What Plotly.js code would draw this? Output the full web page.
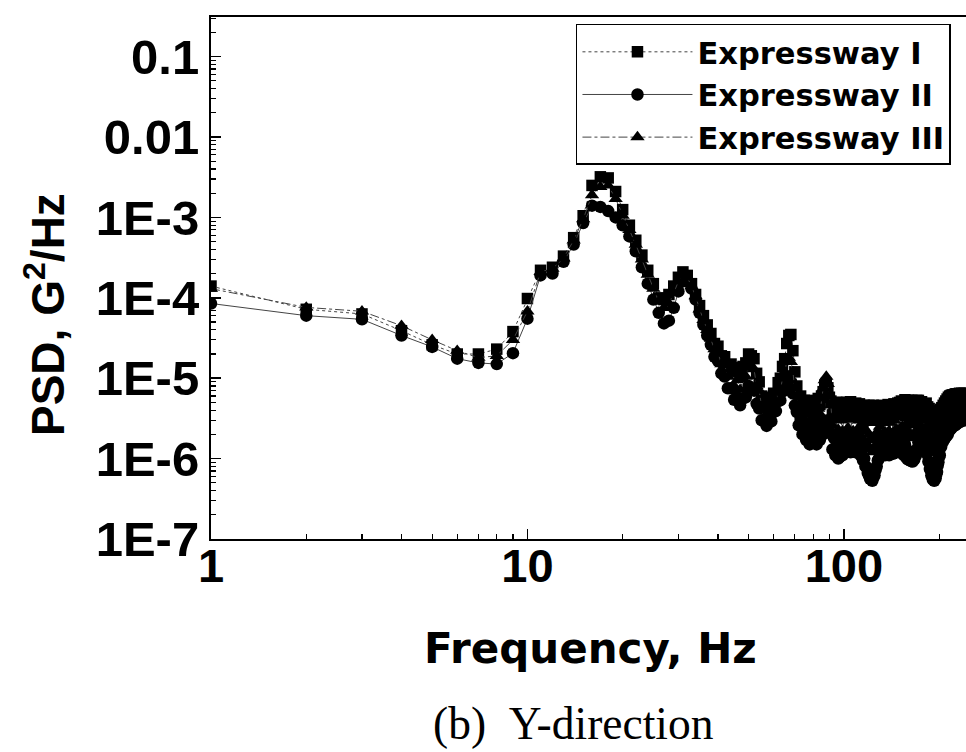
<!DOCTYPE html>
<html>
<head>
<meta charset="utf-8">
<script src="https://cdn.plot.ly/plotly-3.0.1.min.js"></script>
<style>html,body{margin:0;padding:0;background:#fff;}#chart{width:966px;height:752px;}</style>
</head>
<body>
<div id="chart"></div>
<script>
// Frequency (Hz), 1 Hz resolution
var freq = [1,2,3,4,5,6,7,8,9,10,11,12,13,14,15,16,17,18,19,20,21,22,23,24,25,26,27,28,29,30,
31,32,33,34,35,36,37,38,39,40,41,42,43,44,45,46,47,48,49,50,51,52,53,54,55,56,57,58,59,60,
61,62,63,64,65,66,67,68,69,70,71,72,73,74,75,76,77,78,79,80,81,82,83,84,85,86,87,88,89,90,
91,92,93,94,95,96,97,98,99,100,101,102,103,104,105,106,107,108,109,110,111,112,113,114,115,116,117,118,119,120,
121,122,123,124,125,126,127,128,129,130,131,132,133,134,135,136,137,138,139,140,141,142,143,144,145,146,147,148,149,150,
151,152,153,154,155,156,157,158,159,160,161,162,163,164,165,166,167,168,169,170,171,172,173,174,175,176,177,178,179,180,
181,182,183,184,185,186,187,188,189,190,191,192,193,194,195,196,197,198,199,200,201,202,203,204,205,206,207,208,209,210,
211,212,213,214,215,216,217,218,219,220,221,222,223,224,225,226,227,228,229,230,231,232,233,234,235,236,237,238,239,240,
241,242,243];

// Expressway I (squares)
var psdI = [1.4e-4,7.2e-5,6.3e-5,3.9e-5,2.6e-5,2.0e-5,2.0e-5,2.3e-5,3.8e-5,9.8e-5,
2.2e-4,2.4e-4,3.3e-4,5.6e-4,1.05e-3,2.5e-3,3.2e-3,3.1e-3,2.1e-3,1.25e-3,
8.0e-4,5.2e-4,3.4e-4,2.2e-4,1.5e-4,1.0e-4,9.5e-5,1.1e-4,1.4e-4,1.8e-4,
2.1e-4,1.9e-4,1.5e-4,1.1e-4,8.0e-5,6.0e-5,4.6e-5,3.6e-5,2.7e-5,2.5e-5,
1.9e-5,1.85e-5,1.45e-5,1.5e-5,1.2e-5,1.35e-5,1.1e-5,1.4e-5,1.55e-5,2.0e-5,
1.9e-5,1.75e-5,1.15e-5,9.0e-6,6.0e-6,5.8e-6,4.8e-6,5.6e-6,5.0e-6,6.5e-6,
6.4e-6,8.8e-6,1.0e-5,1.4e-5,1.75e-5,2.7e-5,3.4e-5,3.5e-5,2.2e-5,1.2e-5,
8.0e-6,5.8e-6,6.0e-6,4.5e-6,5.3e-6,4.1e-6,5.3e-6,4.4e-6,5.1e-6,3.9e-6,
4.9e-6,4.3e-6,5.6e-6,4.7e-6,6.0e-6,6.8e-6,8.2e-6,8.6e-6,7.6e-6,5.8e-6,
5.2e-6,3.5e-6,4.7e-6,3.3e-6,5.0e-6,4.0e-6,3.4e-6,5.0e-6,3.7e-6,4.8e-6,
3.4e-6,5.0e-6,4.1e-6,3.3e-6,5.1e-6,3.6e-6,4.7e-6,3.4e-6,4.9e-6,3.9e-6,
3.3e-6,4.8e-6,3.5e-6,4.5e-6,3.2e-6,4.6e-6,3.3e-6,4.4e-6,3.0e-6,4.6e-6,
3.4e-6,4.3e-6,3.0e-6,4.6e-6,3.3e-6,4.2e-6,3.0e-6,4.5e-6,3.3e-6,4.3e-6,
3.1e-6,4.6e-6,3.5e-6,4.2e-6,3.0e-6,4.5e-6,3.3e-6,4.7e-6,3.5e-6,4.2e-6,
3.2e-6,4.6e-6,3.5e-6,4.8e-6,3.3e-6,4.5e-6,3.6e-6,4.9e-6,3.7e-6,5.0e-6,
3.9e-6,5.2e-6,4.1e-6,5.0e-6,3.8e-6,5.4e-6,4.2e-6,4.9e-6,3.7e-6,5.3e-6,
4.2e-6,5.1e-6,3.8e-6,5.3e-6,4.0e-6,5.2e-6,3.7e-6,5.0e-6,4.1e-6,5.3e-6,
3.9e-6,5.3e-6,4.1e-6,4.9e-6,3.7e-6,5.1e-6,4.0e-6,4.8e-6,3.6e-6,4.7e-6,
3.6e-6,4.9e-6,3.4e-6,4.4e-6,3.1e-6,4.2e-6,2.9e-6,3.9e-6,2.7e-6,3.8e-6,
2.6e-6,3.7e-6,2.5e-6,3.6e-6,2.7e-6,3.8e-6,2.6e-6,3.7e-6,2.8e-6,3.9e-6,
2.9e-6,4.1e-6,3.1e-6,4.3e-6,3.3e-6,4.6e-6,3.5e-6,4.9e-6,3.8e-6,5.2e-6,
4.0e-6,5.5e-6,4.3e-6,5.8e-6,4.5e-6,6.0e-6,4.7e-6,6.1e-6,4.9e-6,6.2e-6,
5.0e-6,6.2e-6,5.1e-6,6.3e-6,5.0e-6,6.4e-6,5.2e-6,6.3e-6,5.1e-6,6.4e-6,
5.2e-6,6.5e-6,5.1e-6,6.3e-6,5.2e-6,6.5e-6,5.3e-6,6.4e-6,5.2e-6,6.5e-6,
5.3e-6,6.4e-6,5.2e-6];

// Expressway II (circles)
var psdII = [8.5e-5,6.0e-5,5.4e-5,3.4e-5,2.45e-5,1.75e-5,1.55e-5,1.5e-5,2.05e-5,5.5e-5,
1.9e-4,2.0e-4,2.8e-4,4.6e-4,8.5e-4,1.4e-3,1.35e-3,1.2e-3,1.0e-3,8.0e-4,
5.8e-4,3.8e-4,2.4e-4,1.5e-4,9.5e-5,6.5e-5,4.8e-5,5.2e-5,7.5e-5,1.2e-4,
1.6e-4,1.6e-4,1.3e-4,9.5e-5,6.5e-5,4.6e-5,3.4e-5,2.6e-5,1.85e-5,1.65e-5,
1.15e-5,1.05e-5,7.5e-6,7.5e-6,5.4e-6,5.8e-6,4.6e-6,5.6e-6,5.8e-6,8.0e-6,
7.5e-6,7.0e-6,4.8e-6,4.2e-6,3.0e-6,2.9e-6,2.55e-6,3.0e-6,2.9e-6,3.8e-6,
3.9e-6,5.2e-6,5.3e-6,6.8e-6,7.5e-6,9.5e-6,1.05e-5,9.0e-6,6.5e-6,4.6e-6,
3.8e-6,2.6e-6,3.1e-6,2.0e-6,2.5e-6,1.7e-6,2.2e-6,1.5e-6,1.9e-6,1.6e-6,
2.3e-6,1.5e-6,2.0e-6,1.7e-6,2.4e-6,2.0e-6,2.9e-6,2.4e-6,3.0e-6,2.1e-6,
2.2e-6,1.3e-6,1.8e-6,1.1e-6,1.5e-6,1.0e-6,1.05e-6,1.4e-6,1.1e-6,1.6e-6,
1.2e-6,1.9e-6,1.3e-6,1.8e-6,1.2e-6,1.7e-6,1.3e-6,1.9e-6,1.2e-6,1.7e-6,
1.3e-6,1.6e-6,1.1e-6,1.3e-6,9.5e-7,1.0e-6,8.0e-7,7.8e-7,6.6e-7,6.2e-7,
5.6e-7,6.0e-7,5.3e-7,5.8e-7,6.2e-7,7.2e-7,8.0e-7,9.5e-7,1.0e-6,1.2e-6,
1.1e-6,1.5e-6,1.15e-6,1.6e-6,1.1e-6,1.5e-6,1.2e-6,1.7e-6,1.1e-6,1.6e-6,
1.2e-6,1.7e-6,1.15e-6,1.6e-6,1.2e-6,1.8e-6,1.3e-6,1.7e-6,1.2e-6,1.6e-6,
1.3e-6,1.8e-6,1.2e-6,1.6e-6,1.1e-6,1.5e-6,1.05e-6,1.3e-6,9.8e-7,1.15e-6,
9.6e-7,1.0e-6,9.3e-7,9.5e-7,9.2e-7,9.7e-7,9.8e-7,1.1e-6,1.1e-6,1.3e-6,
1.3e-6,1.6e-6,1.5e-6,1.9e-6,1.6e-6,2.0e-6,1.7e-6,2.1e-6,1.6e-6,1.9e-6,
1.4e-6,1.6e-6,1.15e-6,1.2e-6,9.2e-7,9.0e-7,7.4e-7,7.2e-7,6.2e-7,6.0e-7,
5.5e-7,5.7e-7,5.3e-7,5.6e-7,5.7e-7,6.4e-7,6.8e-7,8.2e-7,9.0e-7,1.05e-6,
1.1e-6,1.4e-6,1.4e-6,1.7e-6,1.6e-6,1.9e-6,1.7e-6,2.1e-6,1.8e-6,2.2e-6,
1.9e-6,2.4e-6,2.0e-6,2.5e-6,2.2e-6,2.7e-6,2.3e-6,2.8e-6,2.4e-6,2.9e-6,
2.5e-6,3.0e-6,2.6e-6,3.1e-6,2.6e-6,3.2e-6,2.7e-6,3.2e-6,2.8e-6,3.3e-6,
2.8e-6,3.4e-6,2.9e-6,3.3e-6,2.9e-6,3.5e-6,3.0e-6,3.4e-6,3.0e-6,3.5e-6,
3.1e-6,3.6e-6,3.0e-6];

// Expressway III (triangles)
var psdIII = [1.3e-4,7.6e-5,6.8e-5,4.5e-5,3.0e-5,2.2e-5,1.8e-5,1.9e-5,3.0e-5,6.8e-5,
2.1e-4,2.3e-4,3.1e-4,5.2e-4,9.5e-4,1.9e-3,2.4e-3,2.5e-3,1.7e-3,1.05e-3,
7.0e-4,4.6e-4,3.0e-4,1.95e-4,1.3e-4,9.0e-5,7.5e-5,8.5e-5,1.15e-4,1.6e-4,
1.9e-4,1.8e-4,1.4e-4,1.05e-4,7.2e-5,5.3e-5,4.0e-5,3.1e-5,2.3e-5,2.1e-5,
1.5e-5,1.45e-5,1.05e-5,1.15e-5,8.0e-6,9.5e-6,7.2e-6,9.8e-6,1.05e-5,1.45e-5,
1.35e-5,1.3e-5,8.0e-6,7.0e-6,4.4e-6,4.6e-6,3.6e-6,4.5e-6,4.0e-6,5.6e-6,
5.0e-6,7.2e-6,7.0e-6,1.0e-5,1.2e-5,1.6e-5,1.8e-5,1.6e-5,1.2e-5,7.5e-6,
6.0e-6,4.4e-6,5.0e-6,3.3e-6,4.0e-6,2.8e-6,3.6e-6,3.0e-6,3.9e-6,2.7e-6,
3.4e-6,2.9e-6,4.2e-6,3.6e-6,5.6e-6,7.5e-6,9.5e-6,1.05e-5,8.5e-6,6.0e-6,
4.6e-6,2.6e-6,3.4e-6,2.0e-6,3.1e-6,2.3e-6,1.9e-6,3.0e-6,2.2e-6,3.2e-6,
2.1e-6,3.3e-6,2.4e-6,3.5e-6,2.0e-6,3.1e-6,2.2e-6,3.4e-6,2.1e-6,3.2e-6,
2.3e-6,3.0e-6,1.9e-6,2.7e-6,1.7e-6,2.4e-6,1.6e-6,2.2e-6,1.4e-6,2.0e-6,
1.3e-6,1.8e-6,1.2e-6,1.7e-6,1.4e-6,1.9e-6,1.5e-6,2.2e-6,1.7e-6,2.5e-6,
1.9e-6,2.8e-6,2.0e-6,3.1e-6,2.1e-6,2.9e-6,2.0e-6,3.2e-6,2.2e-6,2.8e-6,
2.0e-6,3.1e-6,2.1e-6,3.0e-6,2.2e-6,3.3e-6,2.3e-6,3.4e-6,2.2e-6,3.5e-6,
2.4e-6,3.6e-6,2.5e-6,3.4e-6,2.3e-6,3.7e-6,2.4e-6,3.2e-6,2.1e-6,2.9e-6,
1.9e-6,2.7e-6,1.8e-6,2.6e-6,1.9e-6,2.8e-6,2.0e-6,3.0e-6,2.2e-6,3.1e-6,
2.3e-6,3.4e-6,2.4e-6,3.5e-6,2.5e-6,3.6e-6,2.4e-6,3.3e-6,2.2e-6,3.2e-6,
2.1e-6,3.0e-6,1.9e-6,2.6e-6,1.7e-6,2.3e-6,1.5e-6,2.0e-6,1.4e-6,1.8e-6,
1.3e-6,1.7e-6,1.2e-6,1.6e-6,1.3e-6,1.8e-6,1.4e-6,2.0e-6,1.6e-6,2.2e-6,
1.8e-6,2.5e-6,2.0e-6,2.8e-6,2.2e-6,3.1e-6,2.4e-6,3.4e-6,2.6e-6,3.7e-6,
2.8e-6,3.9e-6,3.0e-6,4.2e-6,3.2e-6,4.4e-6,3.4e-6,4.6e-6,3.5e-6,4.7e-6,
3.6e-6,4.8e-6,3.7e-6,4.9e-6,3.8e-6,5.0e-6,3.8e-6,4.9e-6,3.9e-6,5.0e-6,
3.9e-6,5.1e-6,4.0e-6,5.0e-6,3.9e-6,5.1e-6,4.0e-6,5.2e-6,4.1e-6,5.1e-6,
4.0e-6,5.2e-6,4.1e-6];

var seriesNames = ["Expressway I", "Expressway II", "Expressway III"];

var yTickVals = [1e-7, 1e-6, 1e-5, 1e-4, 1e-3, 0.01, 0.1];
var yTickText = ["1E-7", "1E-6", "1E-5", "1E-4", "1E-3", "0.01", "0.1"];
var xTickVals = [1, 10, 100];
var xTickText = ["1", "10", "100"];

// minor tick positions (axis decoration)
var yMinor = [];
for (var e = -7; e <= -1; e++) { for (var m = 2; m <= 9; m++) { yMinor.push(m * Math.pow(10, e)); } }
var xMinor = [];
for (var e2 = 0; e2 <= 2; e2++) { for (var m2 = 2; m2 <= 9; m2++) { xMinor.push(m2 * Math.pow(10, e2)); } }

var sans = "Liberation Sans, Arial, sans-serif";
var wide = "DejaVu Sans, Verdana, sans-serif";

var traces = [
  {x: freq, y: psdI, name: seriesNames[0], type: "scatter", mode: "lines+markers",
   line: {color: "#444", width: 1, dash: "dot"},
   marker: {symbol: "square", size: 11.5, color: "#000"}},
  {x: freq, y: psdII, name: seriesNames[1], type: "scatter", mode: "lines+markers",
   line: {color: "#444", width: 1, dash: "solid"},
   marker: {symbol: "circle", size: 12.5, color: "#000"}},
  {x: freq, y: psdIII, name: seriesNames[2], type: "scatter", mode: "lines+markers",
   line: {color: "#444", width: 1, dash: "dashdot"},
   marker: {symbol: "triangle-up", size: 12.5, color: "#000"}}
];

var layout = {
  width: 966, height: 752,
  margin: {l: 211, r: 0, t: 17, b: 213, pad: 0},
  paper_bgcolor: "#fff", plot_bgcolor: "#fff",
  showlegend: true,
  xaxis: {
    type: "log", range: [0, 2.386], showgrid: false, zeroline: false,
    showline: true, linecolor: "#000", linewidth: 2, mirror: true,
    ticks: "inside", ticklen: 10, tickwidth: 1.5, tickcolor: "#000",
    tickmode: "array", tickvals: xTickVals, ticktext: xTickText,
    ticklabelstandoff: -15,
    tickfont: {family: sans, size: 47, color: "#000", weight: "bold"},
    minor: {tickmode: "array", tickvals: xMinor, ticks: "inside", ticklen: 5, tickwidth: 1.2, tickcolor: "#000", showgrid: false}
  },
  yaxis: {
    type: "log", range: [-7, -0.507], showgrid: false, zeroline: false,
    showline: true, linecolor: "#000", linewidth: 2, mirror: false,
    ticks: "inside", ticklen: 10, tickwidth: 1.5, tickcolor: "#000",
    tickmode: "array", tickvals: yTickVals, ticktext: yTickText,
    tickfont: {family: sans, size: 49, color: "#000", weight: "bold"},
    minor: {tickmode: "array", tickvals: yMinor, ticks: "inside", ticklen: 5, tickwidth: 1.2, tickcolor: "#000", showgrid: false}
  },
  legend: {
    x: 0.4834, y: 0.9866, xanchor: "left", yanchor: "top",
    bgcolor: "#fff", bordercolor: "#000", borderwidth: 1.5,
    font: {family: wide, size: 30.5, color: "#000", weight: "bold"},
    itemwidth: 110, tracegroupgap: 0
  },
  annotations: [
    {text: "PSD, G<sup>2</sup>/Hz", xref: "paper", yref: "paper", x: -0.2199, y: 0.431,
     xanchor: "center", yanchor: "middle", textangle: -90, showarrow: false,
     font: {family: sans, size: 46, color: "#000", weight: "bold"}},
    {text: "Frequency, Hz", xref: "paper", yref: "paper", x: 0.5033, y: -0.2107,
     xanchor: "center", yanchor: "middle", showarrow: false,
     font: {family: wide, size: 42, color: "#000", weight: "bold"}},
    {text: "(b)\u00a0\u00a0Y-direction", xref: "paper", yref: "paper", x: 0.4795, y: -0.3544,
     xanchor: "center", yanchor: "middle", showarrow: false,
     font: {family: "Liberation Serif, Times New Roman, serif", size: 45.5, color: "#000"}}
  ]
};

Plotly.newPlot("chart", traces, layout, {staticPlot: true, displayModeBar: false});
</script>
</body>
</html>
